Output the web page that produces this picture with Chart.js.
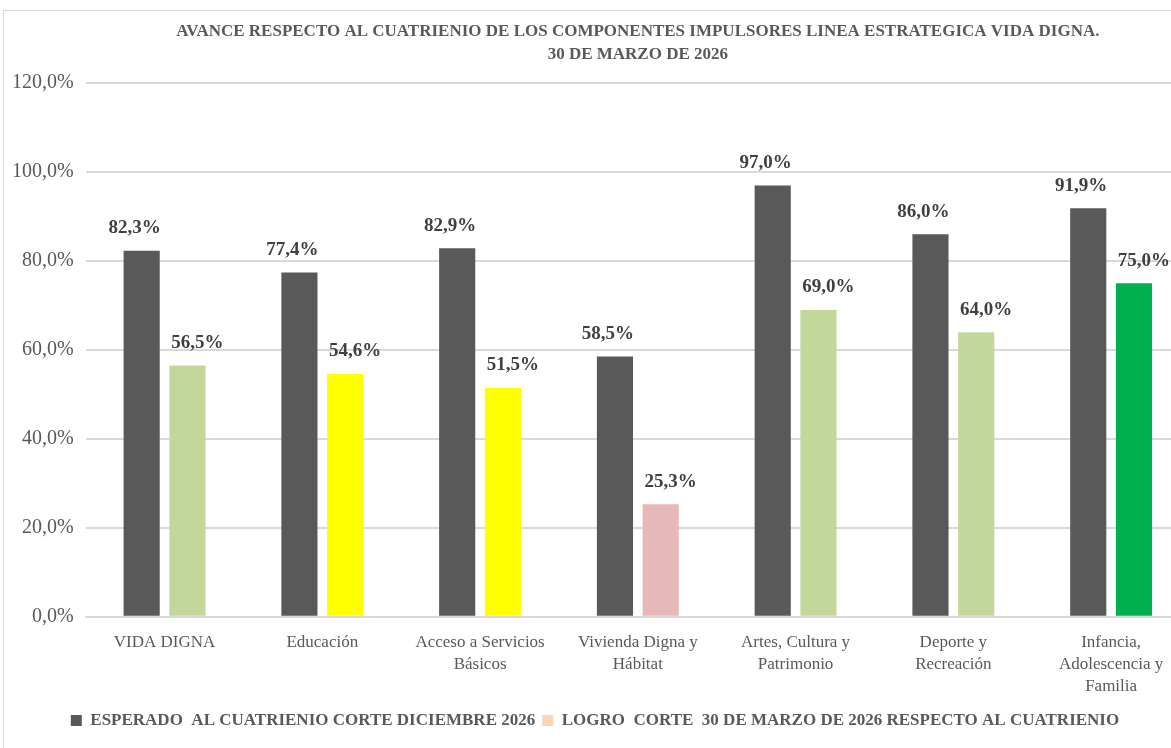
<!DOCTYPE html>
<html>
<head>
<meta charset="utf-8">
<script src="https://cdn.jsdelivr.net/npm/chart.js@4"></script>
<style>
  html, body { margin: 0; padding: 0; background: #fff; overflow: hidden; }
  #wrap { position: relative; width: 1171px; height: 748px; overflow: hidden; }
  #frame { position: absolute; left: 3px; top: 10px; width: 1200px; height: 800px; border: 1px solid #d9d9d9; }
  canvas { position: absolute; left: 0; top: 0; }
</style>
</head>
<body>
<div id="wrap">
  <div id="frame"></div>
  <canvas id="chart" width="1190" height="748"></canvas>
</div>
<script>
var categorias = ['VIDA DIGNA', 'Educación', ['Acceso a Servicios', 'Básicos'], ['Vivienda Digna y', 'Hábitat'],
    ['Artes, Cultura y', 'Patrimonio'], ['Deporte y', 'Recreación'], ['Infancia,', 'Adolescencia y', 'Familia']];
var esperado = [82.3, 77.4, 82.9, 58.5, 97.0, 86.0, 91.9];
var logro = [56.5, 54.6, 51.5, 25.3, 69.0, 64.0, 75.0];
var coloresLogro = ['#C4D79B', '#FFFF00', '#FFFF00', '#E6B8B7', '#C4D79B', '#C4D79B', '#00B050'];
var nombreEsperado = 'ESPERADO  AL CUATRIENIO CORTE DICIEMBRE 2026';
var nombreLogro = 'LOGRO  CORTE  30 DE MARZO DE 2026 RESPECTO AL CUATRIENIO';

var serif = '"Liberation Serif", "DejaVu Serif", serif';

function pct(v) {
    return v.toFixed(1).replace('.', ',') + '%';
}

// etiquetas de valor encima de cada barra
var etiquetas = {
    id: 'etiquetas',
    afterDatasetsDraw: function(chart) {
        var ctx = chart.ctx;
        ctx.save();
        ctx.font = 'bold 19px ' + serif;
        ctx.fillStyle = '#404040';
        ctx.textAlign = 'center';
        ctx.textBaseline = 'bottom';
        chart.data.datasets.forEach(function(ds, i) {
            var meta = chart.getDatasetMeta(i);
            meta.data.forEach(function(bar, j) {
                var dx = i === 0 ? -7 : 10;
                ctx.fillText(pct(ds.data[j]), bar.x + dx, bar.y - 13);
            });
        });
        ctx.restore();
    }
};

var ctx = document.getElementById('chart').getContext('2d');
var grafico = new Chart(ctx, {
    type: 'bar',
    data: {
        labels: categorias,
        datasets: [{
            label: nombreEsperado,
            data: esperado,
            backgroundColor: '#595959',
            categoryPercentage: 0.58,
            barPercentage: 0.79
        }, {
            label: nombreLogro,
            data: logro,
            backgroundColor: coloresLogro,
            categoryPercentage: 0.58,
            barPercentage: 0.79
        }]
    },
    options: {
        responsive: false,
        animation: false,
        layout: { padding: { left: 0, right: 0, top: 17, bottom: 9 } },
        plugins: {
            title: {
                display: true,
                fullSize: false,
                text: ['AVANCE RESPECTO AL CUATRIENIO DE LOS COMPONENTES IMPULSORES LINEA ESTRATEGICA VIDA DIGNA.', '30 DE MARZO DE 2026'],
                color: '#595959',
                font: { family: serif, size: 17, weight: 'bold', lineHeight: 1.3 },
                padding: { top: 4, bottom: 18 }
            },
            legend: {
                position: 'bottom',
                labels: {
                    color: '#595959',
                    font: { family: serif, size: 17, weight: 'bold' },
                    boxWidth: 11,
                    boxHeight: 11,
                    padding: 7,
                    generateLabels: function(chart) {
                        return [
                            { text: nombreEsperado, fillStyle: '#595959', strokeStyle: '#595959', lineWidth: 0, fontColor: '#595959', datasetIndex: 0 },
                            { text: nombreLogro, fillStyle: '#FBD5B5', strokeStyle: '#FBD5B5', lineWidth: 0, fontColor: '#595959', datasetIndex: 1 }
                        ];
                    }
                }
            },
            tooltip: { enabled: false }
        },
        scales: {
            x: {
                grid: { display: false },
                border: { color: '#d9d9d9', width: 2 },
                ticks: {
                    color: '#595959',
                    font: { family: serif, size: 17, lineHeight: 1.3 },
                    padding: 7,
                    maxRotation: 0,
                    autoSkip: false
                }
            },
            y: {
                min: 0,
                max: 120,
                ticks: {
                    stepSize: 20,
                    color: '#595959',
                    font: { family: serif, size: 20 },
                    padding: 12,
                    callback: function(v) { return pct(v); }
                },
                grid: { color: '#d9d9d9', lineWidth: 2, drawTicks: false },
                border: { display: false }
            }
        }
    },
    plugins: [etiquetas]
});
</script>
</body>
</html>
